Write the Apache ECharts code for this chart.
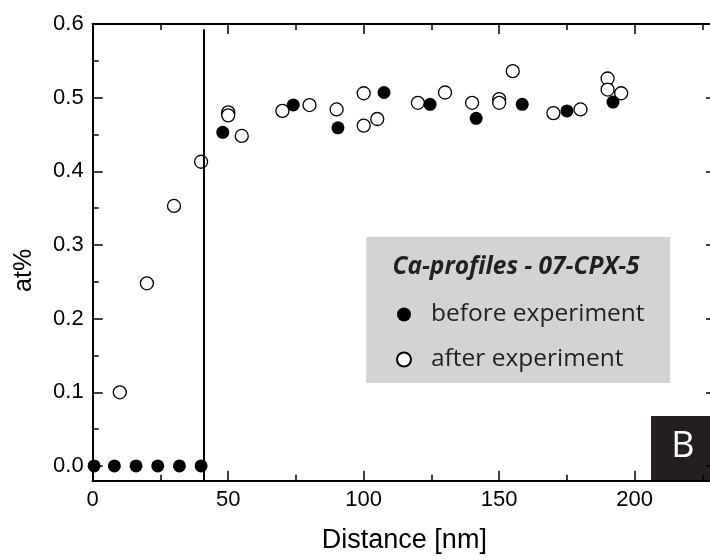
<!DOCTYPE html>
<html>
<head>
<meta charset="utf-8">
<script src="https://cdn.jsdelivr.net/npm/echarts@6/dist/echarts.min.js"></script>
<style>html,body{margin:0;padding:0;background:#fff;}#c{width:710px;height:559px;}</style>
</head>
<body>
<div id="c"></div>
<script>
// ---- data ----
const beforeData = [[0.5,0],[8,0],[16,0],[24,0],[32,0],[40,0],[48,0.453],[74,0.49],[90.5,0.459],[107.5,0.507],[124.5,0.491],[141.5,0.472],[158.5,0.491],[175,0.482],[192,0.494]];
const afterData = [[10,0.1],[20,0.248],[30,0.353],[40,0.413],[50,0.48],[50,0.476],[55,0.448],[70,0.482],[80,0.49],[90,0.484],[100,0.506],[100,0.462],[105,0.471],[120,0.493],[130,0.507],[140,0.493],[150,0.498],[150,0.493],[155,0.536],[170,0.479],[180,0.484],[190,0.526],[190,0.511],[195,0.506]];
const boundaryX = 41;
const boundaryTop = 0.593;
const xMajorTicks = [0,50,100,150,200];
const xMinorTicks = [25,75,125,175,225];
const yMajorTicks = [0,0.1,0.2,0.3,0.4,0.5,0.6];
const yMinorTicks = [0.05,0.15,0.25,0.35,0.45,0.55];
const seriesNames = ['before experiment','after experiment'];
const legendTitle = 'Ca-profiles - 07-CPX-5';
const panelLabel = 'B';
const xName = 'Distance [nm]';
const yName = 'at%';
const xRange = [0,230];
const yRange = [-0.02,0.6];

const chart = echarts.init(document.getElementById('c'), null, {renderer:'canvas'});
const lineStyle = {color:'#000', width:2};
function xAx(pos, ticks, len, labels, extra) {
  return Object.assign({
    type:'value', position:pos, min:xRange[0], max:xRange[1],
    axisLine:{show:true, onZero:false, lineStyle:lineStyle},
    axisTick:{show:true, inside:true, length:len, customValues:ticks, lineStyle:{color:'#000', width:1.5}},
    axisLabel:{show:!!labels, customValues:labels||[], fontFamily:'Liberation Sans', fontSize:22, color:'#000', margin:8},
    splitLine:{show:false}
  }, extra||{});
}
function yAx(pos, ticks, len, labels, extra) {
  return Object.assign({
    type:'value', position:pos, min:yRange[0], max:yRange[1],
    axisLine:{show:true, onZero:false, lineStyle:lineStyle},
    axisTick:{show:true, inside:true, length:len, customValues:ticks, lineStyle:{color:'#000', width:1.5}},
    axisLabel:{show:!!labels, customValues:labels||[], fontFamily:'Liberation Sans', fontSize:22, color:'#000', margin:9,
      formatter:function(v){return Number(v).toFixed(1);}},
    splitLine:{show:false}
  }, extra||{});
}
const option = {
  animation:false,
  backgroundColor:'#fff',
  grid:{left:92.7, right:-6, top:24, bottom:78.3, containLabel:false, outerBoundsMode:'none'},
  xAxis:[
    xAx('bottom', xMajorTicks, 10, xMajorTicks, {name:xName, nameLocation:'middle', nameGap:46,
      nameTextStyle:{fontFamily:'Liberation Sans', fontSize:27, color:'#000'}}),
    xAx('bottom', xMinorTicks, 6, null),
    xAx('top', xMajorTicks, 10, null),
    xAx('top', xMinorTicks, 6, null)
  ],
  yAxis:[
    yAx('left', yMajorTicks, 10, yMajorTicks, {name:yName, nameLocation:'middle', nameGap:56, nameRotate:90,
      nameTextStyle:{fontFamily:'Liberation Sans', fontSize:25, color:'#000', padding:[0,36,0,0]}}),
    yAx('left', yMinorTicks, 6, null),
    yAx('right', yMajorTicks, 10, null),
    yAx('right', yMinorTicks, 6, null)
  ],
  legend:{
    data:seriesNames, orient:'vertical', left:391, top:297, itemWidth:44, itemHeight:14, itemGap:20,
    textStyle:{fontFamily:'Open Sans', fontSize:24.5, color:'#231f20', lineHeight:24}
  },
  graphic:[
    {type:'rect', z:0, shape:{x:366, y:237, width:304, height:146}, style:{fill:'#d1d3d4'}},
    {type:'text', z:1, x:516, y:267, style:{text:legendTitle, fontFamily:'Open Sans', fontWeight:'bold', fontStyle:'italic',
      fontSize:24.5, fill:'#231f20', textAlign:'center', textVerticalAlign:'middle'}},
    {type:'rect', z:0, shape:{x:651, y:416, width:70, height:64.5}, style:{fill:'#231f20'}},
    {type:'text', z:1, x:683, y:447, style:{text:panelLabel, fontFamily:'Open Sans', fontSize:36, fill:'#fff',
      textAlign:'center', textVerticalAlign:'middle'}}
  ],
  series:[
    {name:seriesNames[1], type:'scatter', data:afterData, symbol:'circle', symbolSize:13, z:2,
      itemStyle:{color:'#fff', borderColor:'#000', borderWidth:1.3, opacity:1}},
    {name:seriesNames[0], type:'scatter', data:beforeData, symbol:'circle', symbolSize:13, z:3,
      itemStyle:{color:'#000', opacity:1},
      markLine:{silent:true, symbol:['none','none'], label:{show:false},
        lineStyle:{color:'#000', width:2, type:'solid'},
        data:[[{coord:[boundaryX, boundaryTop]},{coord:[boundaryX, yRange[0]]}]]}}
  ]
};
chart.setOption(option);
</script>
</body>
</html>
